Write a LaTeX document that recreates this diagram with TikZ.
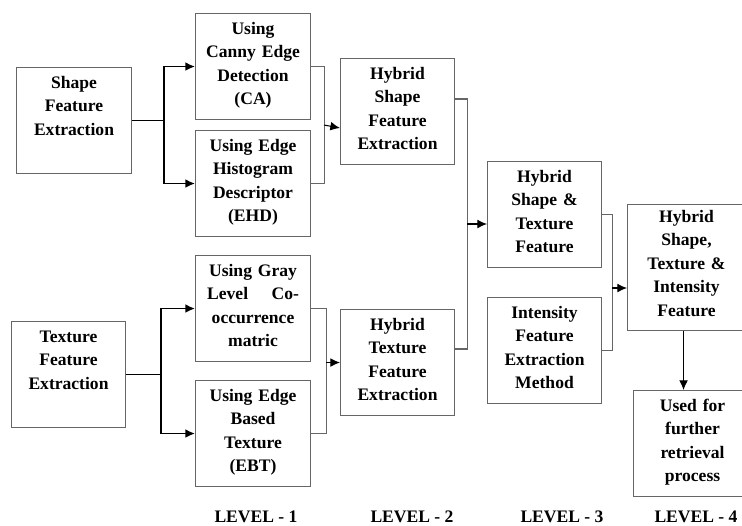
\documentclass[tikz,border=0pt]{standalone}
\usepackage{fontspec}
\setmainfont{Liberation Serif}
\usepackage{tikz}
\usetikzlibrary{arrows.meta,calc}

\begin{document}
\begin{tikzpicture}[x=0.02cm, y=-0.02cm,
  stage/.style={draw=black!60, line width=0.6pt, anchor=north west, inner sep=0pt,
    align=center, text width=2.3cm, text height=0.42cm, text depth=1.7cm,
    font=\fontsize{10}{13.3}\selectfont\bfseries},
  feedline/.style={line width=0.9pt, black},
  mergeline/.style={line width=0.6pt, black!60},
  arrowtip/.style={-{Latex[length=5.5pt,width=5pt]}, black},
  levelcap/.style={font=\fontsize{10}{12}\selectfont\bfseries}]
\useasboundingbox (0,0) rectangle (742,525);
\clip (0,0) rectangle (742,525);
% level 1: shape branch
\node[stage] (shape) at (16,67) {Shape\\Feature\\Extraction};
\node[stage] (canny) at (195,13) {Using\\Canny Edge\\Detection\\(CA)};
\node[stage] (ehd) at (195,130) {Using Edge\\Histogram\\Descriptor\\(EHD)};
% level 1: texture branch
\node[stage, text width=2.28cm] (texture) at (11,321) {Texture\\Feature\\Extraction};
\node[stage] (gray) at (195,255) {Using Gray\\Level\quad\ Co-\\occurrence\\matric};
\node[stage] (ebt) at (195,380) {Using Edge\\Based\\Texture\\(EBT)};
% level 2
\node[stage, text width=2.28cm] (hshape) at (340,58) {Hybrid\\Shape\\Feature\\Extraction};
\node[stage, text width=2.28cm] (htexture) at (340,309) {Hybrid\\Texture\\Feature\\Extraction};
% level 3
\node[stage, text width=2.28cm] (hst) at (487,161) {Hybrid\\Shape \&\\Texture\\Feature};
\node[stage, text width=2.28cm] (intens) at (487,297) {Intensity\\Feature\\Extraction\\Method};
% level 4
\node[stage, text width=2.36cm, text height=0.36cm, text depth=2.16cm] (hsti) at (627,204) {Hybrid\\Shape,\\Texture \&\\Intensity\\Feature};
\node[stage, text width=2.36cm] (used) at (633,390) {Used for\\further\\retrieval\\process};
% fan out from the extraction boxes
\draw[feedline] (shape.east) -- ++(32,0) coordinate (sfork);
\draw[feedline, arrowtip] (sfork) |- (canny.west);
\draw[feedline, arrowtip] (sfork) |- (ehd.west);
\draw[feedline] (texture.east) -- ++(35,0) coordinate (tfork);
\draw[feedline, arrowtip] (tfork) |- (gray.west);
\draw[feedline, arrowtip] (tfork) |- (ebt.west);
% merge level 1 into level 2
\draw[mergeline] (canny.east) -- ++(13,0) coordinate (cmerge) |- (ehd.east);
\draw[mergeline, arrowtip] ($(cmerge)!0.5!(cmerge |- ehd.east)$) -- (hshape.west |- 0,128);
\draw[mergeline] (gray.east) -- ++(15,0) coordinate (gmerge) |- (ebt.east);
\draw[mergeline, arrowtip] (gmerge |- htexture.west) -- (htexture.west);
% merge level 2 into level 3
\draw[mergeline] ($(hshape.north east)+(0,41)$) -- ++(12,0) coordinate (hmerge)
  |- ($(htexture.north east)+(0,40)$);
\draw[mergeline, arrowtip] (hmerge |- 0,224) -- (hst.west |- 0,224);
% merge level 3 into level 4
\draw[mergeline] (hst.east) -- ++(10,0) coordinate (imerge) |- (intens.east);
\draw[mergeline, arrowtip] (imerge |- 0,288) -- (hsti.west |- 0,288);
\draw[mergeline, arrowtip] ($(hsti.south)+(-3,0)$) -- ($(hsti.south |- used.north)+(-3,0)$);
% level captions
\node[levelcap] (lev1) at (256,517) {LEVEL - 1};
\node[levelcap] (lev2) at (412,517) {LEVEL - 2};
\node[levelcap] (lev3) at (562,517) {LEVEL - 3};
\node[levelcap] (lev4) at (696,517) {LEVEL - 4};
\end{tikzpicture}
\end{document}
